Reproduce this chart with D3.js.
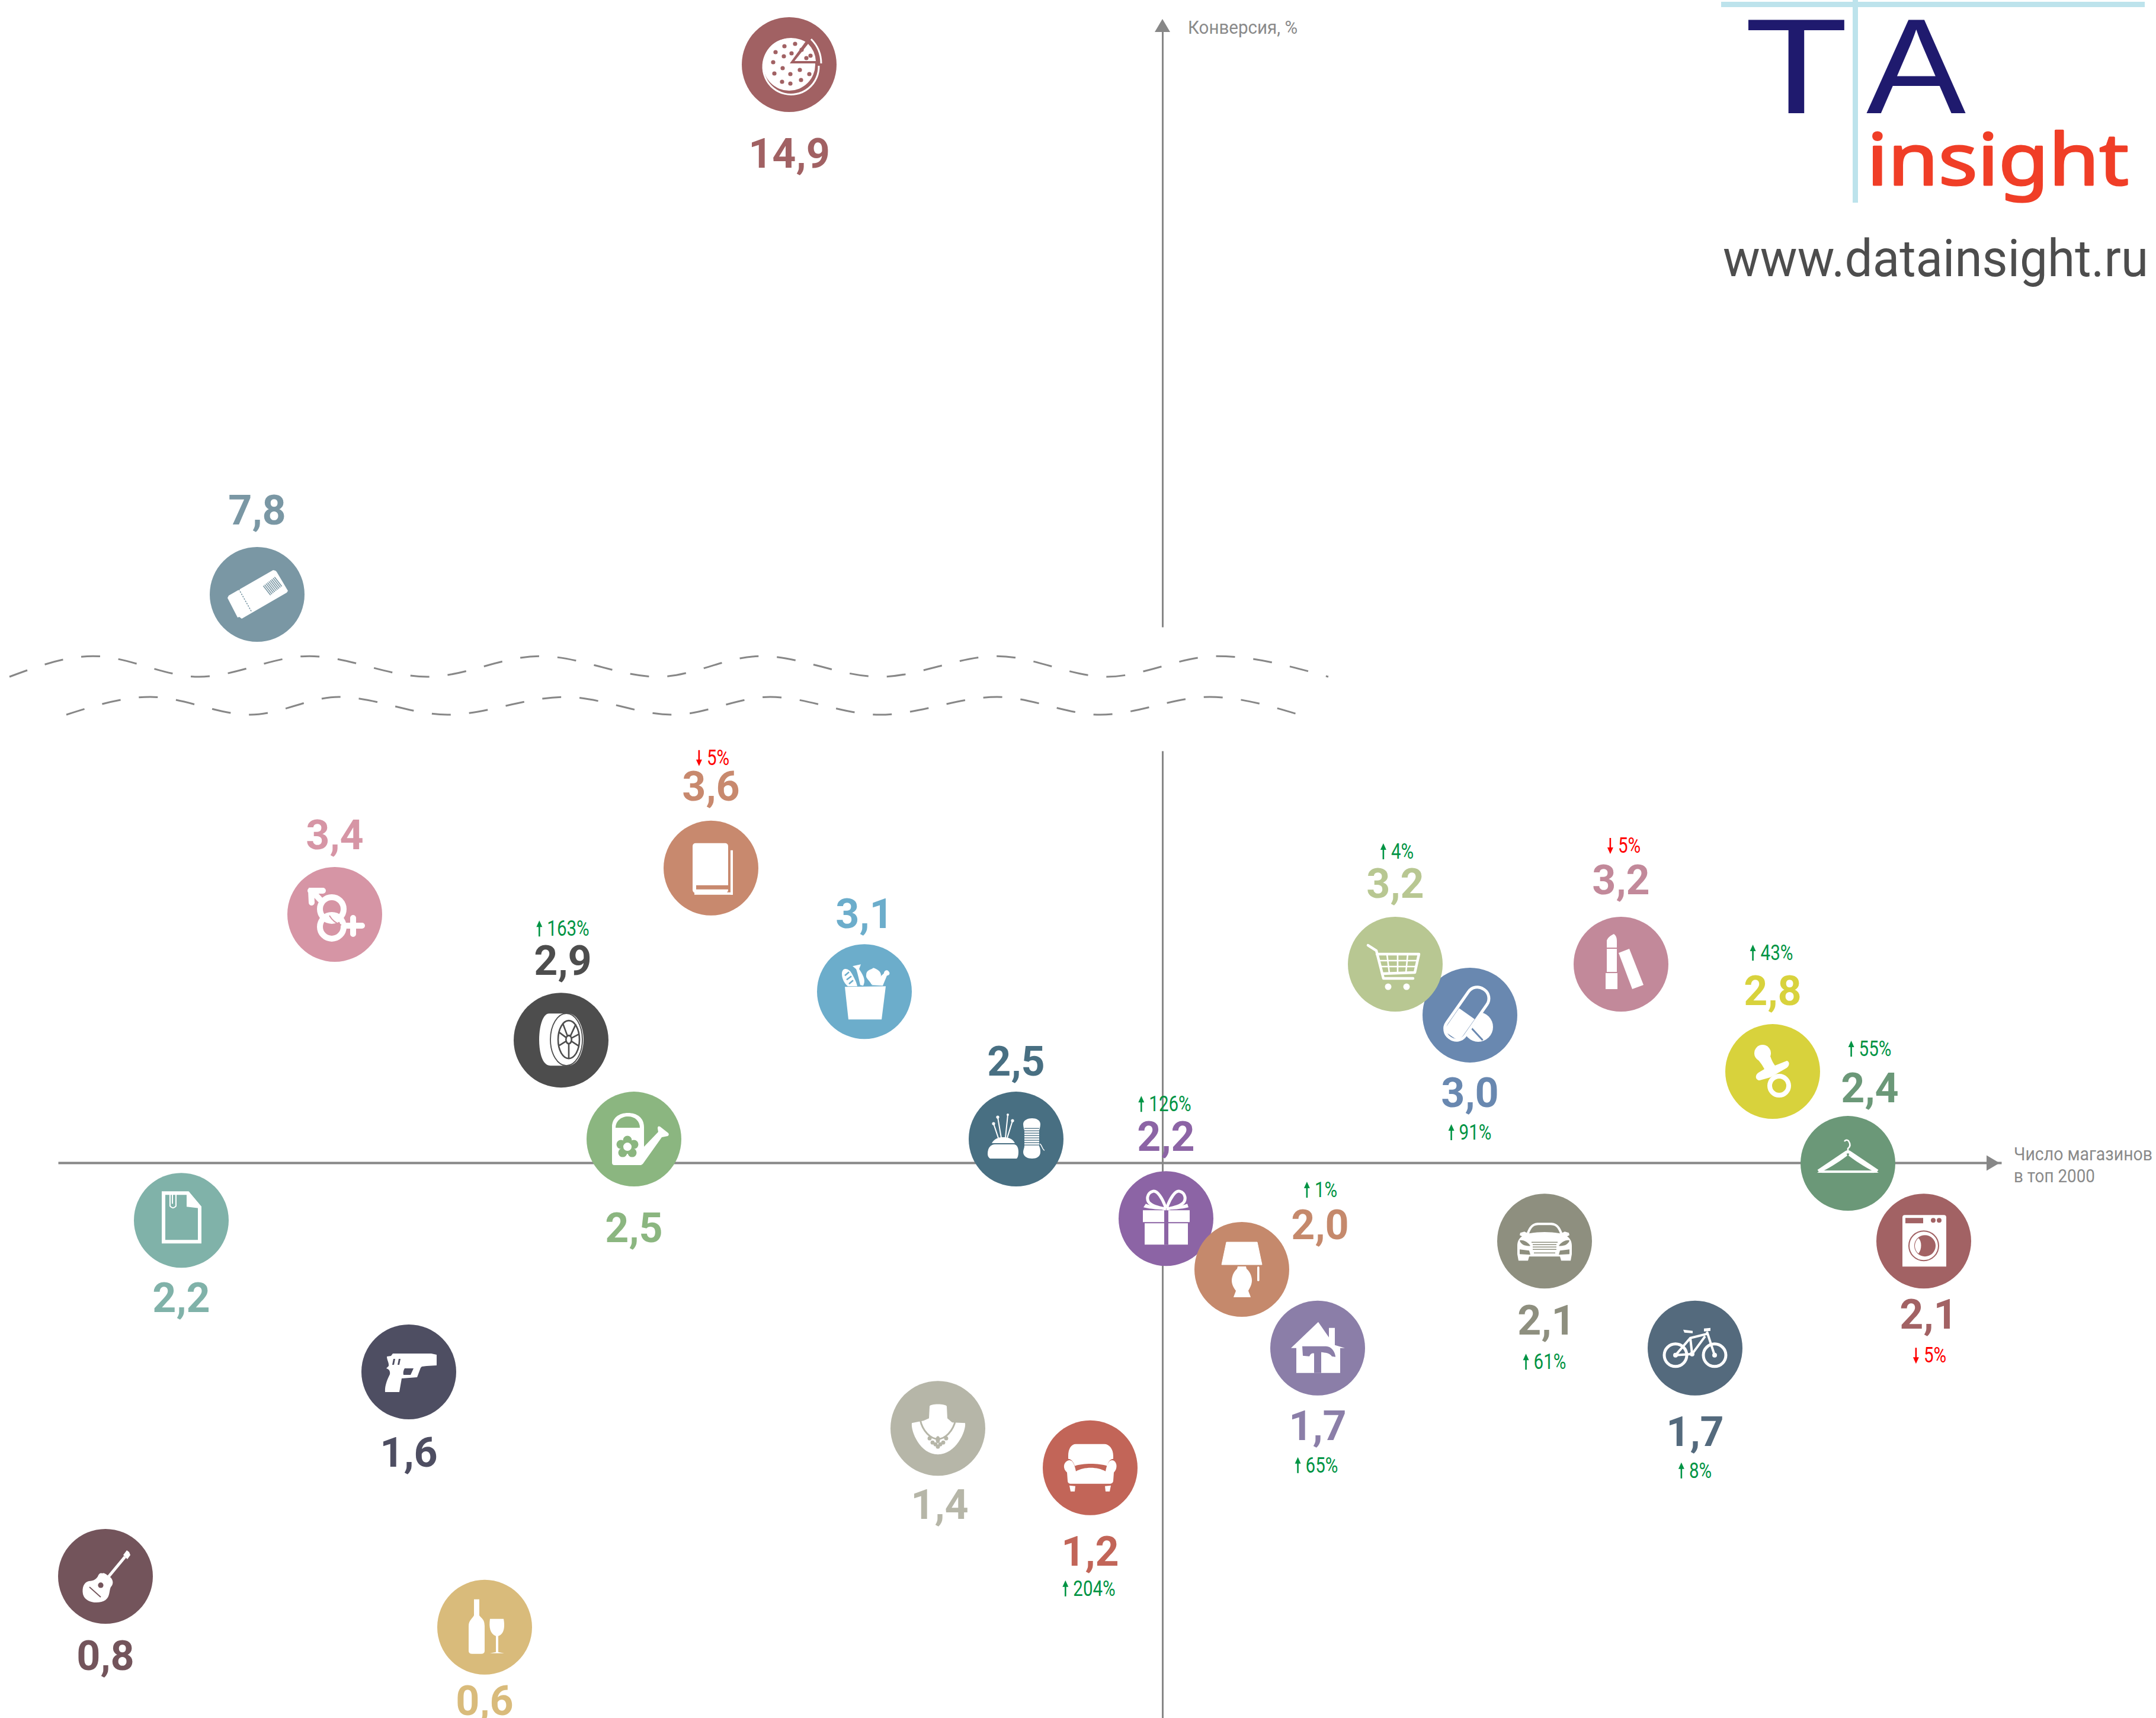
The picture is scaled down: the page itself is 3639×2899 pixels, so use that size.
<!DOCTYPE html>
<html><head><meta charset="utf-8">
<script src="https://cdnjs.cloudflare.com/ajax/libs/d3/7.8.5/d3.min.js"></script>
<style>html,body{margin:0;padding:0;background:#fff}svg{display:block}</style>
</head><body><div id="chart"></div>
<script>
// ---------- data ----------
const categories = ["pizza","ticket","adult","book","food","tire","garden","sewing","gift","lamp","pharm","cart","cosmetics","baby","clothes","washing","car","bike","house","sofa","jewelry","office","gun","guitar","wine"];
const stores     = [123.4,33.6,46.7,110.2,136.1,84.9,97.2,161.7,187.0,199.8,238.3,225.7,263.8,289.4,302.1,314.9,250.9,276.3,212.6,174.2,148.5,20.8,59.2,8.0,72.0];
const conversion = [14.9,7.8,3.417,3.6,3.112,2.920,2.529,2.529,2.215,2.014,3.019,3.220,3.220,2.796,2.433,2.126,2.126,1.703,1.703,1.230,1.386,2.208,1.609,0.801,0.600];
const valueLabels= ["14,9","7,8","3,4","3,6","3,1","2,9","2,5","2,5","2,2","2,0","3,0","3,2","3,2","2,8","2,4","2,1","2,1","1,7","1,7","1,2","1,4","2,2","1,6","0,8","0,6"];
const deltas     = [null,null,null,-5,null,163,null,null,126,1,91,4,-5,43,55,-5,61,8,65,204,null,null,null,null,null];
const waveUpperStores = [-8.2,5.9,23.8,42.4,62.3,81.4,101.3,118.7,138.7,158.5,177,195.6,214.4];
const waveUpperConv   = [5.985,6.44,5.985,6.44,5.985,6.44,5.985,6.44,5.985,6.44,5.985,6.44,5.985];
const waveLowerStores = [1.4,15.5,32.5,47.4,65.7,85.5,103.8,120.2,138.7,158.5,175.9,194.4,209.5];
const waveLowerConv   = [5.149,5.54,5.149,5.54,5.149,5.54,5.149,5.54,5.149,5.54,5.149,5.54,5.149];

// ---------- styles & layout ----------
const colors = ["#a16163","#7a97a4","#d695a5","#c8896e","#6cadcb","#4d4d4d","#8bb680","#486f82","#8c64a5","#c5896c","#6988b0","#b8c792","#c2899a","#d8d23c","#6b9878","#a26264","#8e8f7f","#546a7d","#8b7ea8","#c26558","#b6b6a8","#80b2a9","#4e4e62","#73545b","#d9bb7b"];
const labelDx = [0,0,0,0,0,3,0,0,0,132,0,0,0,0,37,8,3,0,0,0,3,0,0,0,0];
const labelDy = [149,-143,-135,-139,-132,-135,149,-132,-139,-76,130,-137,-143,-137,-128,123,133,140,130,140,128,130,135,133,123];
const deltaDx = [0,0,0,5,0,5,0,0,0,135,2,5,7,0,39,12,2,2,0,0,0,0,0,0,0];
const deltaDy = [0,0,0,-186,0,-188,0,0,-193,-134,198,-190,-200,-200,-193,193,204,207,198,204,0,0,0,0,0];
const R = 80;
const W = 3639, H = 2899;
const axisColor = "#878787", FONT = "Roboto, sans-serif";

const x = d3.scaleLinear().domain([0,328]).range([98,3378]);
const y = d3.scaleLinear().domain([0,4,7.8,14.9]).range([3002,1294,1003,109]);

const svg = d3.select("#chart").append("svg").attr("width",W).attr("height",H).attr("viewBox",`0 0 ${W} ${H}`);
svg.append("rect").attr("width",W).attr("height",H).attr("fill","#fff");

// ---------- icons (white glyphs, local coordinates, circle radius 80) ----------
const C = "currentColor";
const dots = (arr,r) => arr.map(p=>`<circle cx="${p[0]}" cy="${p[1]}" r="${r}" fill="${C}"/>`).join("");
const icons = {
pizza:`<path d="M36,-30 A47,47 0 1 0 50,2" fill="none" stroke="white" stroke-width="3"/><circle r="44"/>
 <path d="M1,-2 L30,-42 A54,54 0 0 1 54,-2 Z" fill="${C}"/><path d="M9,-6 L32,-35 A44,44 0 0 1 45,-6 Z"/><path d="M37,-43 A58,58 0 0 1 54,-2" fill="none" stroke="white" stroke-width="3"/>`+
 dots([[-8,-31],[10,-35],[21,-25],[-23,-21],[4,-19],[-9,-14],[-27,-4],[-11,6],[18,9],[2,16],[-25,15],[34,16],[20,26],[-12,29],[2,32],[36,-15],[29,-11]],3.6),
ticket:`<path d="M27,-41 L31,-40 L33,-38 L52,-6 L50,-3 L-26,41 L-30,38 L-33,39 L-50,6 L-48,2 Z"/>
 <path d="M-31,-9 L-9,30" stroke="${C}" stroke-width="1.6" stroke-dasharray="2.5 2"/>
 <g transform="translate(26,-14) rotate(-38)" stroke="${C}" stroke-width="1.6">${[-12,-9,-6,-3,0,3,6,9,12].map(o=>`<path d="M${o},-10 L${o},10"/>`).join("")}</g>`,
adult:`<g fill="none" stroke="white" stroke-width="10"><circle cx="-5" cy="-9" r="20"/><circle cx="-5" cy="21" r="20"/></g>
 <path d="M-9,2 Q-2,14 11,18" fill="none" stroke="${C}" stroke-width="2"/>
 <path d="M-25,-25 L-37,-38 M-41,-40 L-20,-40 M-40,-40 L-39,-20 M18,19 L46,19 M31,6 L31,33" fill="none" stroke="white" stroke-width="10" stroke-linecap="round"/><path d="M-44,-45 L-24,-45 L-44,-25 Z"/>`,
book:`<rect x="-31" y="-42" width="60" height="84" rx="5"/><rect x="-25" y="29" width="54" height="7" fill="${C}"/><rect x="33" y="-30" width="4" height="75"/><rect x="-28" y="41" width="65" height="4"/>`,
food:`<path d="M-33,-8 L36,-9 L29,47 L-27,47 Z"/>
 <path d="M-38,-30 C-38,-42 -26,-40 -21,-30 C-17,-23 -13,-15 -12,-9 L-28,-9 C-34,-14 -38,-22 -38,-30 Z"/>
 <path d="M-26,-33 L-33,-27 M-22,-26 L-30,-20 M-19,-19 L-26,-13" stroke="${C}" stroke-width="2.5"/>
 <path d="M-20,-43 L-6,-46 L-9,-38 C0,-25 2,-18 -2,-10 L-7,-11 C-10,-24 -12,-33 -14,-38 Z"/>
 <path d="M3,-28 C3,-37 12,-37 15,-40 C22,-38 28,-34 28,-27 C26,-22 18,-14 12,-12 C8,-20 2,-22 3,-28 Z"/>
 <path d="M12,-11 C20,-20 28,-26 33,-31 C33,-35 38,-38 41,-34 C44,-31 42,-27 38,-27 L31,-10 Z"/>`,
tire:`<path d="M12,-45 L-20,-45 C-32,-45 -37,-20 -37,-1 C-37,20 -32,43 -18,43 L12,43 C28,43 38,20 38,-1 C38,-22 28,-45 12,-45 Z"/>
 <ellipse cx="9" cy="-1" rx="27" ry="44" fill="none" stroke="${C}" stroke-width="1.8"/>
 <ellipse cx="13" cy="-1" rx="18" ry="32" stroke="${C}" stroke-width="2.6"/>
 <path d="M13,-1 L13,30 M13,-1 L-3,-13 M13,-1 L3,-28 M13,-1 L25,-27 M13,-1 L30,-10 M13,-1 L-3,9 M13,-1 L30,10" stroke="${C}" stroke-width="2.6"/>
 <ellipse cx="13" cy="-1" rx="6" ry="8.5" fill="${C}"/><ellipse cx="13" cy="-1" rx="3.4" ry="5.5"/>`,
garden:`<path d="M-37,40 Q-37,44 -33,44 L12,44 L15,42 L47,-3 L57,-5 Q60,-7 58,-10 L44,-21 Q40,-23 40,-18 L41,-12 L17,13 L17,-20 C17,-36 5,-44 -10,-44 C-25,-44 -37,-36 -37,-20 Z"/>
 <path d="M-31,-19 C-31,-30 -22,-38 -10,-38 C2,-38 10,-30 10,-19 Z" fill="${C}"/>`+
 dots([[-11,2],[0,9],[-3,23],[-19,23],[-22,9]],7.5)+`<circle cx="-11" cy="13" r="12" fill="${C}"/><circle cx="-11" cy="13" r="7"/>`,
sewing:`<path d="M-48,25 C-48,14 -42,9 -36,9 L-4,9 C2,9 4,16 4,22 C4,27 3,31 1,33 L-44,33 C-47,31 -48,28 -48,25 Z"/><path d="M-41,7 C-36,-2 -28,-3 -22,-3 C-14,-3 -6,-1 -2,7 Z"/>
 <path d="M-30,-2 L-38,-26 M-25,-2 L-31,-37 M-18,-2 L-14,-41 M-15,-2 L-6,-31" stroke="white" stroke-width="2"/>`+
 `<circle cx="-38" cy="-26" r="2.6"/><circle cx="-31" cy="-37" r="2.6"/><circle cx="-14" cy="-41" r="2"/><circle cx="-6" cy="-31" r="2.6"/>
 <path d="M12,-25 C12,-32 20,-35 27,-35 C34,-35 41,-32 41,-25 C41,-20 39,-16 39,-14 L39,12 C41,16 41,20 41,22 C41,30 34,33 27,33 C20,33 12,30 12,22 C12,18 14,15 14,12 L14,-14 C14,-16 12,-20 12,-25 Z"/>
 <g stroke="${C}" stroke-width="1.3">${[-18,-14,-10,-6,-2,2,6,10].map(o=>`<path d="M14,${o} L39,${o}"/>`).join("")}</g>
 <path d="M40,8 C44,10 44,18 48,19" fill="none" stroke="white" stroke-width="1.5"/>`,
gift:`<rect x="-39" y="-14" width="79" height="20"/><rect x="-36" y="8" width="73" height="36"/><rect x="-3" y="-14" width="7" height="58" fill="${C}"/>
 <g fill="none" stroke="white" stroke-width="5"><path d="M0,-17 C-6,-35 -15,-48 -22,-46 C-32,-44 -35,-30 -25,-24 C-18,-19 -8,-18 0,-16"/><path d="M1,-17 C7,-35 16,-48 23,-46 C33,-44 36,-30 26,-24 C19,-19 9,-18 1,-16"/></g>
 <path d="M-38,-19 L-34,-25 C-22,-20 -10,-17 0,-16 C10,-17 22,-20 36,-25 L38,-19 C26,-16 10,-15 0,-15 C-10,-15 -26,-16 -38,-19 Z"/>`,
lamp:`<path d="M-26,-46 L26,-46 L34,-8 L-34,-8 Z" stroke="white" stroke-width="1" stroke-linejoin="round"/>
 <path d="M-7,-5 L7,-5 L8,-1 C14,4 17,12 17,19 C17,26 13,32 11,36 C12,40 14,43 15,47 L-14,47 C-13,43 -11,40 -10,36 C-13,32 -17,26 -17,19 C-17,12 -14,4 -8,-1 Z"/><rect x="26" y="-5" width="3.6" height="25" rx="1.8"/>`,
pharm:`<circle cx="14" cy="20" r="25"/>
 <path d="M-4,26 L33,34" stroke="${C}" stroke-width="3" transform="rotate(35,14,20)"/>
 <g transform="rotate(-55,-6,-3)"><rect x="-59" y="-25" width="106" height="44" rx="20" fill="${C}"/><rect x="-56" y="-21" width="100" height="38" rx="18" fill="none" stroke="white" stroke-width="5"/><path d="M-52,-14 Q-52,-18 -40,-18 L-6,-18 L-6,14 L-40,14 Q-52,14 -52,4 Z"/></g>`,
cart:`<g fill="none" stroke="white" stroke-width="4.5" stroke-linecap="round" stroke-linejoin="round"><path d="M-46,-32 L-32,-23 L-20,24 L30,24"/><path d="M-31,-17 L40,-17 L33,14 L-22,16"/></g>
 <g stroke="white" stroke-width="2.6"><path d="M-14,-17 L-10,15 M4,-17 L4,15 M21,-17 L18,14 M-28,-6 L37,-6 M-25,4 L35,4"/></g>
 <circle cx="-12" cy="38" r="5.5"/><circle cx="19" cy="38" r="5.5"/>`,
cosmetics:`<path d="M-24,-28 L-24,-40 C-22,-46 -16,-49 -12,-51 C-8,-48 -7,-44 -7,-38 L-7,-28 Z"/><rect x="-24" y="-26" width="17" height="39"/><rect x="-26" y="15" width="20" height="27"/><path d="M-4,-19 L14,-26 L38,35 L19,42 Z"/>`,
baby:`<circle cx="-17" cy="-31" r="14"/><path d="M-26,-22 L-8,-38 C-4,-26 -2,-18 4,-10 L24,-18 C30,-16 28,-8 22,-5 L-4,10 L-22,15 C-30,14 -30,6 -24,2 L-14,-4 C-18,-12 -22,-16 -26,-22 Z"/><circle cx="11" cy="24" r="16" fill="none" stroke="white" stroke-width="8"/>`,
clothes:`<path d="M-50,13 L-4,-18 Q0,-21 4,-18 L50,13" fill="none" stroke="white" stroke-width="5"/><path d="M-52,16 C-40,9 -20,-5 -3,-18 L-1,-13 C-18,0 -36,10 -44,14 L44,14 C36,10 18,0 1,-13 L3,-18 C20,-5 40,9 52,16 L47,16 L-47,16 Z"/><rect x="-44" y="12" width="88" height="4"/><path d="M0,-20 L0,-25 C4,-28 5,-32 1,-38 C-1,-40 -4,-40 -6,-37" fill="none" stroke="white" stroke-width="2.5"/>`,
washing:`<path d="M-36,-40 Q-36,-44 -32,-44 L34,-44 Q38,-44 38,-40 L38,43 L-36,43 Z"/><rect x="-31" y="-39" width="30" height="9" fill="${C}"/><circle cx="16" cy="-35" r="4" fill="${C}"/><circle cx="26" cy="-35" r="4" fill="${C}"/>
 <circle cx="0" cy="8" r="25" fill="none" stroke="${C}" stroke-width="2"/><circle cx="2" cy="8" r="18" fill="${C}"/><path d="M-9,-5 C-3,0 -3,14 -9,21 C-17,14 -17,2 -9,-5 Z"/>`,
car:`<path d="M-30,-14 C-26,-24 -22,-30 -12,-31 L12,-31 C22,-30 26,-24 30,-14 L34,-16 L41,-14 L42,-10 L38,-8 C44,-4 46,2 46,8 L46,22 L44,33 L28,33 L26,26 L-26,26 L-28,33 L-44,33 L-46,22 L-46,8 C-46,2 -44,-4 -38,-8 L-42,-10 L-41,-14 L-34,-16 Z"/>
 <path d="M-26,-13 C-22,-24 -18,-27 -10,-27 L10,-27 C18,-27 22,-24 26,-13 C8,-16 -8,-16 -26,-13 Z" fill="${C}"/>
 <path d="M-42,-1 C-36,-3 -28,2 -24,8 C-32,9 -40,6 -42,-1 Z M42,-1 C36,-3 28,2 24,8 C32,9 40,6 42,-1 Z M-42,14 L-26,16 L-24,23 L-42,22 Z M42,14 L26,16 L24,23 L42,22 Z" fill="${C}"/>
 <path d="M-22,2 L22,2 M-20,6 L20,6 M-20,10 L20,10 M-20,14 L20,14 M-18,20 L18,20" stroke="${C}" stroke-width="1.5"/>`,
bike:`<g fill="none" stroke="white"><circle cx="-33" cy="12" r="19" stroke-width="5"/><circle cx="33" cy="12" r="19" stroke-width="5"/><path d="M-33,12 L-5,10 L17,-20 M-33,12 L-8,-17 L20,-24 M-8,-17 L-5,10 M20,-28 L33,12" stroke-width="4"/></g>
 <path d="M-20,-31 L-4,-29 L-4,-25 L-18,-26 Z M15,-33 L26,-34 L26,-29 L15,-28 Z"/><circle cx="-33" cy="12" r="4"/><circle cx="33" cy="12" r="4"/><circle cx="-5" cy="10" r="4"/>`,
house:`<path d="M1,-44 L19,-18 L19,-34 L29,-34 L29,-5 L46,0 L38,0 L38,42 L-36,42 L-36,0 L-45,0 Z"/>
 <path d="M-26,-3 L14,-3 C24,-3 30,8 30,15 L24,14 C20,8 14,8 6,7 L6,42 L-6,42 L-6,9 C-10,8 -12,10 -14,14 L-25,13 Z" fill="${C}"/>`,
sofa:`<path d="M-37,-20 C-37,-32 -32,-40 -24,-40 L24,-40 C32,-40 39,-32 39,-20 L39,-15 C34,-15 30,-10 29,-3 C14,-8 -12,-8 -26,-3 C-28,-10 -32,-15 -37,-15 Z"/>
 <path d="M-38,-12 C-30,-16 -26,-5 -24,6 C-10,-2 12,-2 26,6 C28,-5 32,-16 40,-12 C46,-8 46,2 40,8 L39,22 C39,25 36,27 33,27 L-32,27 C-36,27 -38,25 -38,22 L-39,8 C-46,2 -46,-8 -38,-12 Z"/>
 <path d="M-35,30 L-25,31 L-26,40 L-33,40 Z M25,31 L35,30 L33,40 L26,40 Z"/>`,
jewelry:`<path d="M-14,-37 C-14,-42 14,-42 15,-37 L16,-17 L24,-10 L46,-9 C48,5 30,44 0,44 C-30,44 -46,5 -44,-9 L-24,-13 L-15,-17 Z"/>
 <path d="M-30,-15 C-26,5 -12,18 0,18 C12,18 26,5 30,-15" fill="none" stroke="${C}" stroke-width="3"/>`+
 dots([[-14,17],[-9,24],[-4,27],[4,27],[9,24],[14,17],[0,31]],3.4)+`<ellipse cx="0" cy="19" rx="3.6" ry="6" fill="${C}"/>`,
office:`<path d="M-30,-46 L11,-46 L31,-22 L31,36 L-30,36 Z" fill="none" stroke="white" stroke-width="6"/><path d="M9,-48 L13,-48 L34,-23 L34,-20 L9,-23 Z"/>
 <path d="M-19,-46 L-19,-24 Q-14,-18 -9,-24 L-9,-44 Q-14,-48 -15,-44 L-15,-28" fill="none" stroke="white" stroke-width="2"/>`,
gun:`<path d="M-37,-26 L-30,-27 L-27,-31 L38,-31 L47,-29 L47,-11 L30,-10 L22,-9 L20,-7 L14,9 L-12,11 L-16,34 L-40,34 C-41,24 -36,12 -32,4 C-31,-2 -34,-5 -38,-6 L-34,-10 C-33,-15 -37,-20 -37,-26 Z"/>
 <path d="M-7,-6 L8,-6 L3,5 L-9,5 C-10,1 -9,-3 -7,-6 Z M-26,-22 L-23,-22 L-25,-12 L-28,-12 Z M-17,-22 L-14,-22 L-16,-12 L-19,-12 Z" fill="${C}"/>`,
guitar:`<path d="M4,2 L33,-33" stroke="white" stroke-width="5"/><path d="M30,-36 L36,-44 L40,-41 L42,-36 L37,-29 Z"/>
 <path d="M-5,-5 C-1,-7 4,0 9,2 C14,8 13,14 9,18 C6,24 8,34 0,40 C-10,47 -34,46 -38,30 C-40,18 -36,10 -28,8 C-20,8 -14,4 -12,-2 C-10,-6 -7,-6 -5,-5 Z"/>
 <circle cx="-8" cy="15" r="4.6" fill="${C}"/><path d="M-27,18 L-8,35" stroke="${C}" stroke-width="1.8"/>`,
wine:`<path d="M-18,-47 L-9,-47 L-9,-20 C-6,-15 0,-14 0,-2 L0,40 Q0,45 -6,45 L-21,45 Q-27,45 -27,40 L-27,-2 C-27,-12 -20,-15 -18,-20 Z"/>
 <path d="M9,-14 L32,-14 C34,-4 34,10 25,14 L23,15 L23,42 L33,44 L9,44 L19,42 L19,15 C9,11 7,0 9,-14 Z"/>`
};

// ---------- axes ----------
const axisGroup = svg.append("g").attr("class","axes");
const xAxis = d3.axisBottom(x).tickValues([]).tickSizeOuter(0);
const gx = axisGroup.append("g").attr("transform","translate(0,1962)").call(xAxis);
gx.select(".domain").attr("stroke",axisColor).attr("stroke-width",4);
const yUpper = d3.scaleLinear().domain([0,1]).range([1058,50]);
const yLower = d3.scaleLinear().domain([0,1]).range([2899,1267]);
[yUpper,yLower].forEach(s=>{
  const g = axisGroup.append("g").attr("transform","translate(1962,0)").call(d3.axisLeft(s).tickValues([]).tickSizeOuter(0));
  g.select(".domain").attr("stroke",axisColor).attr("stroke-width",3);
});
axisGroup.append("path").attr("d","M3375,1962.5 L3353,1949.5 L3353,1975.5 Z").attr("fill",axisColor);
axisGroup.append("path").attr("d","M1962,32 L1949,54 L1975,54 Z").attr("fill",axisColor);

// ---------- scale break waves ----------
const line = d3.line().x(d=>x(d[0])).y(d=>y(d[1])).curve(d3.curveMonotoneX);
[[waveUpperStores,waveUpperConv],[waveLowerStores,waveLowerConv]].forEach(([a,b])=>{
  svg.append("path").attr("d",line(d3.zip(a,b))).attr("fill","none").attr("stroke",axisColor).attr("stroke-width",3).attr("stroke-dasharray","32 31");
});

// ---------- marks ----------
const rows = categories.map((c,i)=>({c,i,sx:stores[i],cv:conversion[i]}));
const marks = svg.append("g").selectAll("g").data(rows).join("g")
  .attr("transform",d=>`translate(${x(d.sx)},${y(d.cv)})`)
  .style("color",d=>colors[d.i]);
marks.append("circle").attr("r",R).attr("fill",d=>colors[d.i]);
marks.append("g").attr("fill","white").html(d=>icons[d.c]);

// value labels
svg.append("g").selectAll("text").data(rows).join("text")
  .attr("x",d=>x(d.sx)+labelDx[d.i]).attr("y",d=>y(d.cv)+labelDy[d.i]+25)
  .attr("text-anchor","middle").attr("font-family",FONT).attr("font-weight",700).attr("font-size",70)
  .attr("fill",d=>colors[d.i]).text(d=>valueLabels[d.i]);

// change labels
const dg = svg.append("g").selectAll("g").data(rows.filter(d=>deltas[d.i]!==null)).join("g")
  .attr("transform",d=>`translate(${x(d.sx)+deltaDx[d.i]},${y(d.cv)+deltaDy[d.i]})`)
  .attr("fill",d=>deltas[d.i]>0?"#009444":"#ff0000");
dg.append("text").attr("y",12).attr("font-family",FONT).attr("font-size",36)
  .text(d=>Math.abs(deltas[d.i])+"%")
  .each(function(){
    const w=this.getComputedTextLength()*0.82;
    d3.select(this).attr("textLength",w).attr("lengthAdjust","spacingAndGlyphs").attr("x",-w/2+7);
    const up=d3.select(this.parentNode).datum();
    const ax=-w/2-6;
    const s=deltas[up.i]>0?1:-1;
    d3.select(this.parentNode).append("path")
      .attr("d",`M${ax},${-14*s} L${ax-5},${-3*s} L${ax-1.3},${-3*s} L${ax-1.3},${13*s} L${ax+1.3},${13*s} L${ax+1.3},${-3*s} L${ax+5},${-3*s} Z`);
  });

// axis titles
const titles=[["Конверсия, %",2005,57,185],["Число магазинов",3399,1958,234],["в топ 2000",3399,1995,137]];
svg.append("g").selectAll("text").data(titles).join("text")
  .attr("x",d=>d[1]).attr("y",d=>d[2]).attr("font-family",FONT).attr("font-size",32).attr("fill","#8a8a8a")
  .attr("textLength",d=>d[3]).attr("lengthAdjust","spacingAndGlyphs").text(d=>d[0]);

// ---------- logo ----------
const logo=svg.append("g");
logo.append("rect").attr("x",2905).attr("y",3).attr("width",715).attr("height",9).attr("fill","#bde3ec");
logo.append("rect").attr("x",3127).attr("y",0).attr("width",9).attr("height",342).attr("fill","#bde3ec");
logo.append("text").attr("transform","translate(3032,191) scale(1.25,1)").attr("text-anchor","middle").attr("font-family","Liberation Sans").attr("font-size",229).attr("fill","#1f1a6e").text("T");
logo.append("text").attr("transform","translate(3234,191) scale(1.1,1)").attr("text-anchor","middle").attr("font-family","Liberation Sans").attr("font-size",229).attr("fill","#1f1a6e").text("A");
logo.append("text").attr("x",3151).attr("y",312).attr("font-family","Noto Sans").attr("font-size",121).attr("fill","#f03e27").attr("stroke","#f03e27").attr("stroke-width",3).attr("stroke-linejoin","round").attr("textLength",442).attr("lengthAdjust","spacingAndGlyphs").text("insight");
logo.append("text").attr("x",2908).attr("y",466).attr("font-family",FONT).attr("font-size",87).attr("fill","#4d4d4d").attr("textLength",718).attr("lengthAdjust","spacingAndGlyphs").text("www.datainsight.ru");
</script></body></html>
